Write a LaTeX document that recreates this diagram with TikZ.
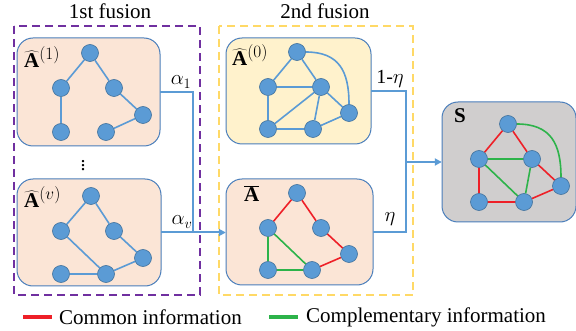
\documentclass[tikz,border=0pt]{standalone}
\usepackage{fontspec}
\setmainfont{Liberation Serif}
\usetikzlibrary{arrows.meta}
\definecolor{peach}{HTML}{FBE5D6}
\definecolor{lightyel}{HTML}{FFF2CC}
\definecolor{lightgray}{HTML}{D0CECE}
\definecolor{boxline}{HTML}{4A7EBB}
\definecolor{vfill}{HTML}{5B9BD5}
\definecolor{vline}{HTML}{41719C}
\definecolor{edgeblue}{HTML}{5B9BD5}
\definecolor{cred}{HTML}{EE2028}
\definecolor{cgreen}{HTML}{2DB34A}
\definecolor{fpurple}{HTML}{7030A0}
\definecolor{fyellow}{HTML}{FFD966}
\tikzset{
  x=1pt, y=-1pt,
  panel/.style={draw=boxline, line width=1pt, rounded corners=16pt},
  vert/.style={circle, draw=vline, line width=0.6pt, fill=vfill, minimum size=17pt, inner sep=0pt},
  eb/.style={draw=edgeblue, line width=1.6pt},
  er/.style={draw=cred, line width=1.6pt},
  eg/.style={draw=cgreen, line width=1.6pt},
  conn/.style={draw=edgeblue, line width=2pt},
  tip/.style={-{Triangle[length=7pt,width=7pt]}},
  frame/.style={line width=1.8pt, dash pattern=on 8pt off 5pt},
  ttl/.style={font=\fontsize{21}{24}\selectfont, inner sep=0pt},
  wlab/.style={font=\fontsize{20}{24}\selectfont, inner sep=0pt},
  plab/.style={font=\fontsize{21}{24}\selectfont, inner sep=0pt, anchor=north west},
}
\newcommand{\suplab}[1]{^{\raisebox{1pt}{\fontsize{16}{18}\selectfont$#1$}}}
\begin{document}
\begin{tikzpicture}
\useasboundingbox (0,0) rectangle (576,331);

% fusion frames and their titles
\draw[frame, fpurple] (14,26) rectangle (200,295);
\draw[frame, fyellow] (219,26) rectangle (413,295);
\node[ttl] (t1) at (110,11) {1st fusion};
\node[ttl] (t2) at (325,11) {2nd fusion};

% panels
\path[panel, fill=peach] (17,38) rectangle (160,146);
\node[inner sep=0pt, minimum width=143pt, minimum height=108pt] (b1) at (88.5,92) {};
\path[panel, fill=peach] (17,179) rectangle (161,286);
\node[inner sep=0pt, minimum width=144pt, minimum height=107pt] (b2) at (89,232.5) {};
\path[panel, fill=lightyel] (226,38) rectangle (371,144);
\node[inner sep=0pt, minimum width=145pt, minimum height=106pt] (b0) at (298.5,91) {};
\path[panel, fill=peach] (226,179) rectangle (373,285);
\node[inner sep=0pt, minimum width=147pt, minimum height=106pt] (bb) at (299.5,232) {};
\path[panel, fill=lightgray] (442,102) rectangle (576,222);
\node[inner sep=0pt, minimum width=134pt, minimum height=120pt] (bs) at (509,162) {};

% panel labels
\node[plab] (l1) at (24,46) {$\widehat{\mathbf{A}}\suplab{(1)}$};
\node[plab] (l2) at (24,186) {$\widehat{\mathbf{A}}\suplab{(v)}$};
\node[plab] (l0) at (232,44) {$\widehat{\mathbf{A}}\suplab{(0)}$};
\node[plab] (lb) at (244,185) {$\overline{\mathbf{A}}$};
\node[plab] (ls) at (454,108) {$\mathbf{S}$};
\node[font=\fontsize{20}{22}\selectfont, inner sep=0pt] (dots) at (83,163) {$\vdots$};

% graph of view 1
\node[vert] (p1) at (90,53) {};
\node[vert] (p2) at (61,88) {};
\node[vert] (p3) at (114,88) {};
\node[vert] (p4) at (143,115) {};
\node[vert] (p5) at (61,132) {};
\node[vert] (p6) at (106,132) {};
\draw[eb] (p1) -- (p2) (p1) -- (p3) (p2) -- (p5) (p3) -- (p4) (p4) -- (p6);

% graph of view v
\node[vert] (q1) at (91,196) {};
\node[vert] (q2) at (61,231) {};
\node[vert] (q3) at (114,231) {};
\node[vert] (q4) at (143,258) {};
\node[vert] (q5) at (61,274) {};
\node[vert] (q6) at (106,274) {};
\draw[eb] (q1) -- (q2) (q1) -- (q3) (q2) -- (q6) (q5) -- (q6) (q3) -- (q4) (q4) -- (q6);

% graph A^(0)
\node[vert] (r1) at (297,52) {};
\node[vert] (r2) at (268,87) {};
\node[vert] (r3) at (321,87) {};
\node[vert] (r4) at (349,113) {};
\node[vert] (r5) at (268,129) {};
\node[vert] (r6) at (313,129) {};
\draw[eb] (r1) -- (r2) (r1) -- (r3) (r2) -- (r3) (r2) -- (r5) (r3) -- (r5)
  (r3) -- (r6) (r3) -- (r4) (r5) -- (r6) (r6) -- (r4);
\draw[eb] (r1) to[out=0, in=90, looseness=1.25] (r4);

% graph A-bar
\node[vert] (u1) at (297,193) {};
\node[vert] (u2) at (268,228) {};
\node[vert] (u3) at (321,228) {};
\node[vert] (u4) at (349,254) {};
\node[vert] (u5) at (268,270) {};
\node[vert] (u6) at (312,270) {};
\draw[er] (u1) -- (u2) (u1) -- (u3) (u3) -- (u4) (u4) -- (u6);
\draw[eg] (u2) -- (u5) (u2) -- (u6) (u5) -- (u6);

% graph S
\node[vert] (s1) at (508,124) {};
\node[vert] (s2) at (479,159) {};
\node[vert] (s3) at (532,159) {};
\node[vert] (s4) at (561,186) {};
\node[vert] (s5) at (479,202) {};
\node[vert] (s6) at (524,202) {};
\draw[er] (s1) -- (s2) (s1) -- (s3) (s2) -- (s5) (s5) -- (s6) (s6) -- (s4) (s3) -- (s4);
\draw[eg] (s2) -- (s3) (s2) -- (s6) (s3) -- (s6);
\draw[eg] (s1) to[out=0, in=90, looseness=1.25] (s4);

% weighted connectors
\coordinate (jl) at (193,232.5);
\coordinate (jr) at (406,162);
\draw[conn] (b1.east) -| (jl);
\draw[conn, tip] (b2.east) -- (bb.west |- b2.east);
\draw[conn] (b0.east) -| (jr);
\draw[conn] (bb.east) -| (jr);
\draw[conn, tip] (jr) -- (bs.west);
\node[wlab] (w1) at (181,82) {$\alpha_1$};
\node[wlab] (wv) at (182,222) {$\alpha_v$};
\node[wlab] (w0) at (390,79) {1-$\eta$};
\node[wlab] (wb) at (390,219) {$\eta$};

% legend
\coordinate (rl1) at (23,317);
\coordinate (rl2) at (52,317);
\coordinate (gl1) at (269,317);
\coordinate (gl2) at (298,317);
\draw[cred, line width=3pt] (rl1) -- (rl2);
\draw[cgreen, line width=3pt] (gl1) -- (gl2);
\node[ttl, anchor=west] (cm) at (59,317) {Common information};
\node[ttl, anchor=west] (cp) at (306,317) {Complementary information};
\end{tikzpicture}
\end{document}
